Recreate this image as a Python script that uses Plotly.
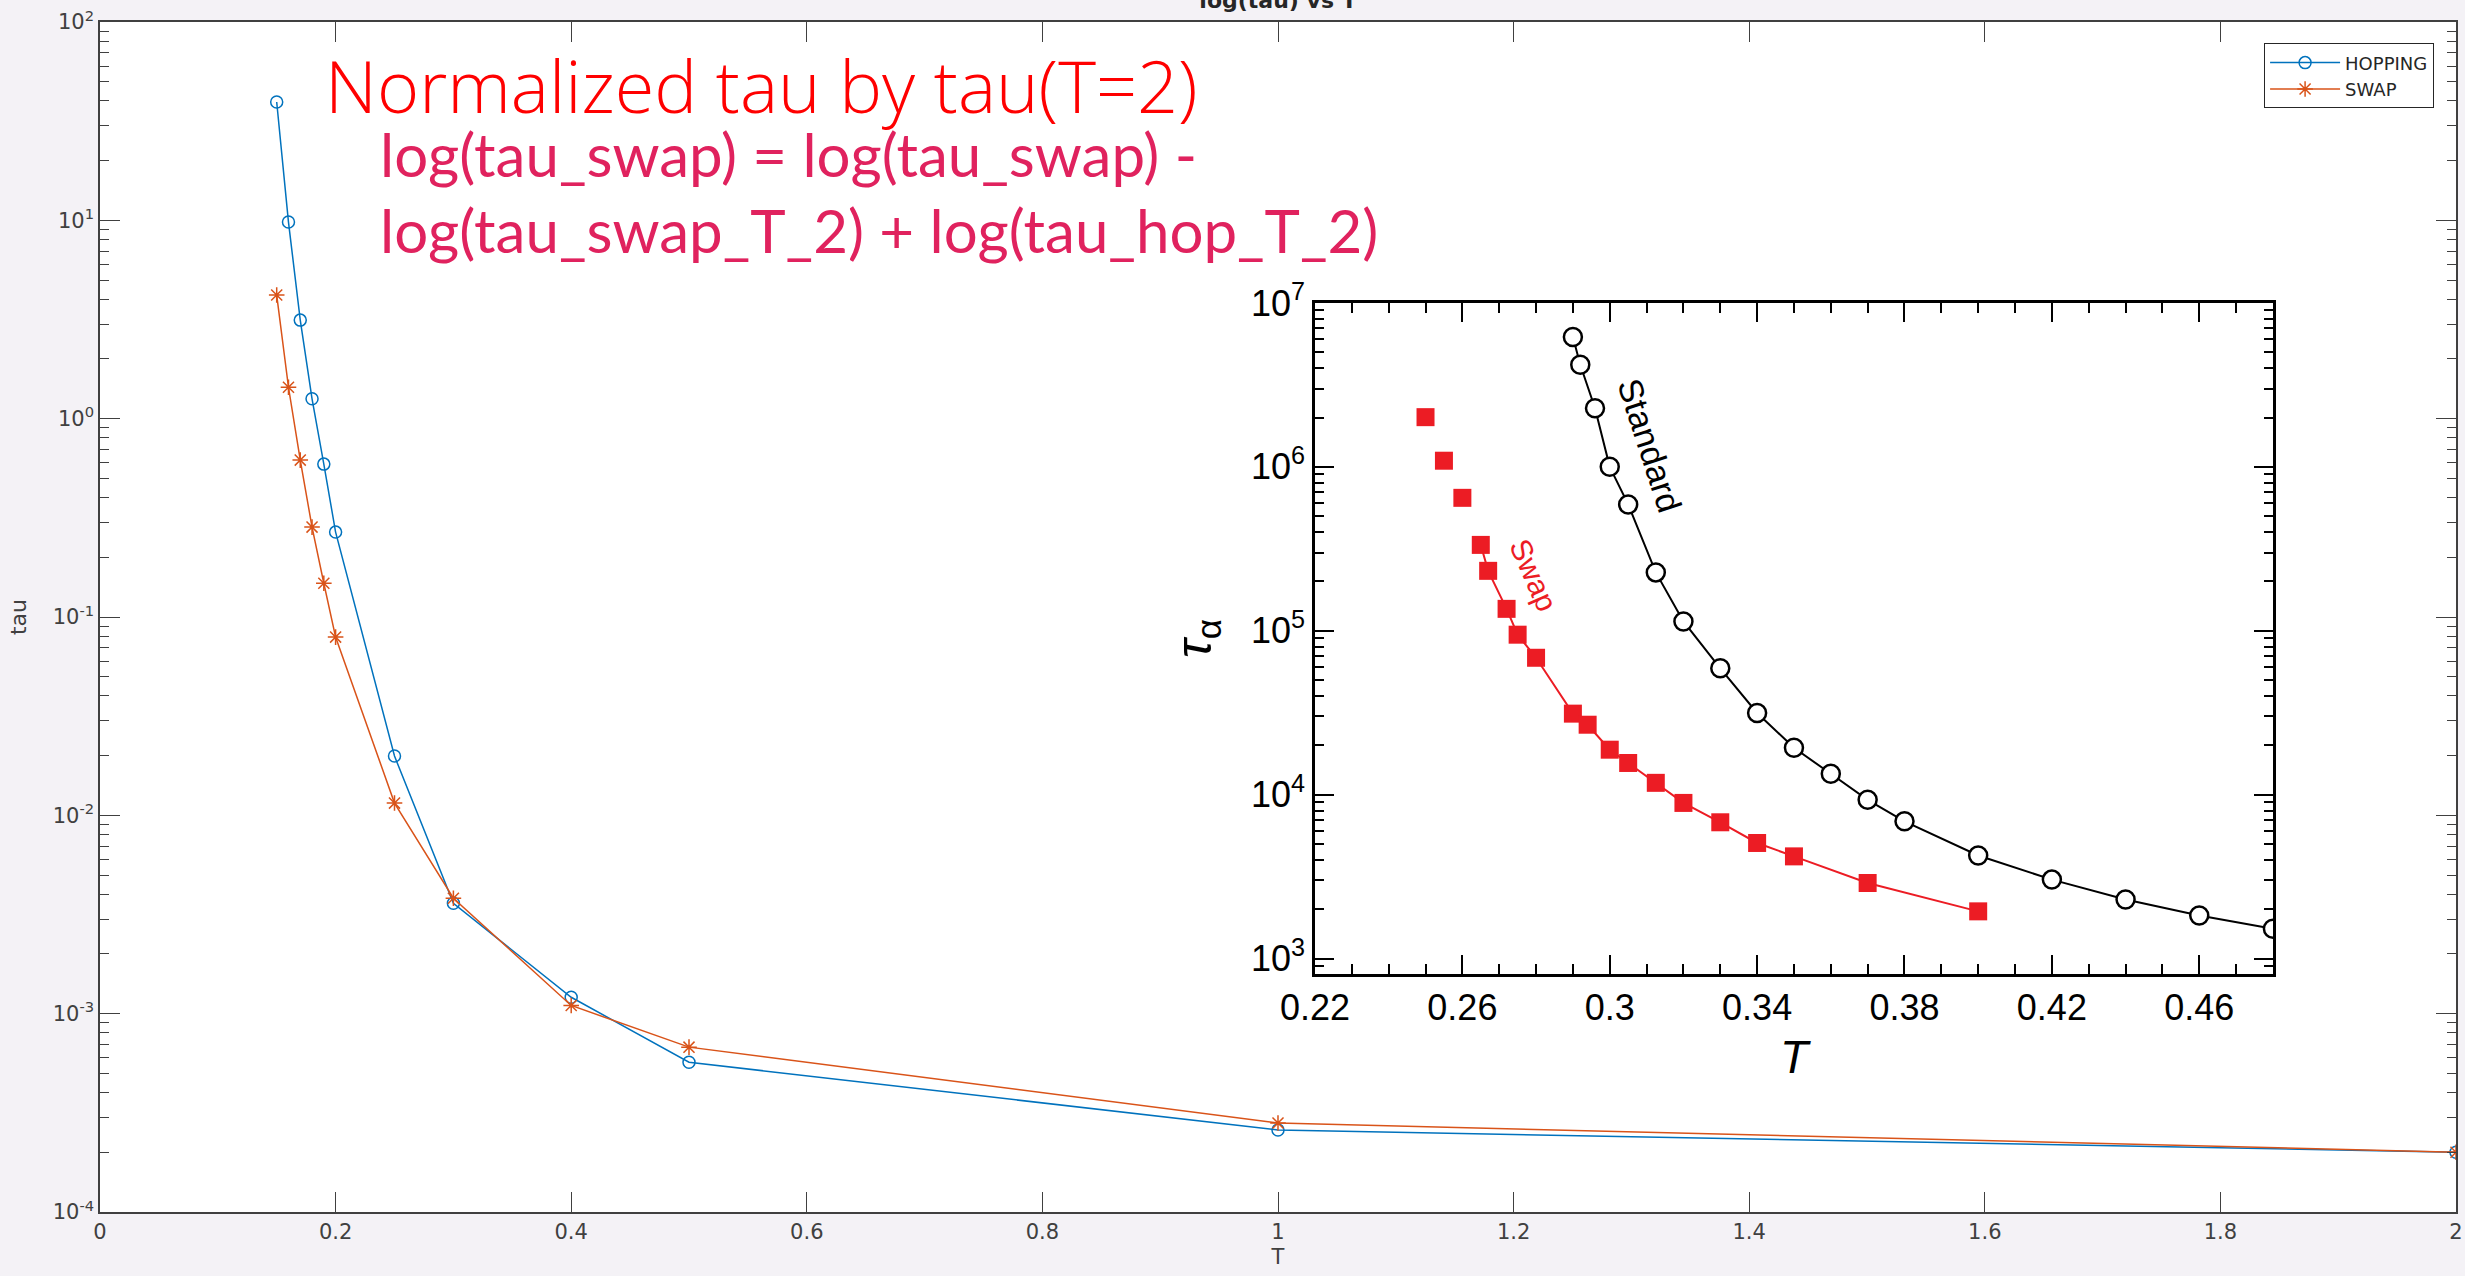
import plotly.graph_objects as go

# ---------------- main chart data ----------------
T_main = [0.15, 0.16, 0.17, 0.18, 0.19, 0.20, 0.25, 0.30, 0.40, 0.50, 1.00, 2.00]
tau_hopping = [39.5, 9.8, 3.14, 1.26, 0.59, 0.268, 0.0199, 0.0036, 0.00121, 0.000569, 0.000259, 0.0002]
tau_swap = [4.2, 1.44, 0.618, 0.284, 0.148, 0.0792, 0.01153, 0.00382, 0.0011, 0.000678, 0.000281, 0.0002]

main_ytick_vals = [1e-4, 1e-3, 1e-2, 1e-1, 1e0, 1e1, 1e2]
main_ytick_text = ['10<sup>-4</sup>', '10<sup>-3</sup>', '10<sup>-2</sup>', '10<sup>-1</sup>',
                   '10<sup>0</sup>', '10<sup>1</sup>', '10<sup>2</sup>']

# ---------------- inset data ----------------
T_standard = [0.29, 0.292, 0.296, 0.30, 0.305, 0.3125, 0.32, 0.33, 0.34, 0.35, 0.36,
              0.37, 0.38, 0.40, 0.42, 0.44, 0.46, 0.48]
tau_standard = [6.2e6, 4.2e6, 2.28e6, 1.0e6, 5.9e5, 2.27e5, 1.14e5, 5.9e4, 3.15e4, 1.93e4,
                1.34e4, 9.3e3, 6.87e3, 4.25e3, 3.03e3, 2.29e3, 1.83e3, 1.52e3]
T_swap_inset = [0.25, 0.255, 0.26, 0.265, 0.267, 0.272, 0.275, 0.28, 0.29, 0.294, 0.30,
                0.305, 0.3125, 0.32, 0.33, 0.34, 0.35, 0.37, 0.40]
tau_swap_inset = [2.01e6, 1.09e6, 6.47e5, 3.34e5, 2.32e5, 1.36e5, 9.46e4, 6.84e4, 3.12e4,
                  2.67e4, 1.88e4, 1.56e4, 1.18e4, 8.9e3, 6.78e3, 5.07e3, 4.2e3, 2.89e3, 1.94e3]
swap_line_start = 3  # first points shown without connecting line

inset_ytick_vals = [1e3, 1e4, 1e5, 1e6, 1e7]
inset_ytick_text = ['10<sup>3</sup>', '10<sup>4</sup>', '10<sup>5</sup>', '10<sup>6</sup>', '10<sup>7</sup>']

BLUE = '#0072BD'
ORANGE = '#D95319'
AXC = '#404040'
INSET_RED = '#EC1C24'

main_minor = [d * 10 ** e for e in range(-4, 2) for d in range(2, 10)]
inset_minor = [d * 10 ** e for e in range(2, 7) for d in range(2, 10)]

fig = go.Figure()

fig.add_trace(go.Scatter(
    x=T_main, y=tau_hopping, mode='lines+markers', name='HOPPING',
    line=dict(color=BLUE, width=1.5),
    marker=dict(symbol='circle-open', size=12, color=BLUE, line=dict(width=1.5, color=BLUE)),
    xaxis='x', yaxis='y'))
fig.add_trace(go.Scatter(
    x=T_main, y=tau_swap, mode='lines+markers', name='SWAP',
    line=dict(color=ORANGE, width=1.5),
    marker=dict(symbol='asterisk-open', size=13, color=ORANGE, line=dict(width=1.5, color=ORANGE)),
    xaxis='x', yaxis='y'))

# inset traces
fig.add_trace(go.Scatter(
    x=T_standard, y=tau_standard, mode='lines+markers', showlegend=False,
    line=dict(color='black', width=2),
    marker=dict(symbol='circle', size=18, color='white', line=dict(width=2.5, color='black')),
    xaxis='x2', yaxis='y2'))
fig.add_trace(go.Scatter(
    x=T_swap_inset[swap_line_start:], y=tau_swap_inset[swap_line_start:], mode='lines',
    showlegend=False, line=dict(color=INSET_RED, width=2),
    xaxis='x2', yaxis='y2'))
fig.add_trace(go.Scatter(
    x=T_swap_inset, y=tau_swap_inset, mode='markers', showlegend=False,
    marker=dict(symbol='square', size=18, color=INSET_RED, line=dict(width=0)),
    xaxis='x2', yaxis='y2'))

main_font = dict(family='DejaVu Sans', size=21, color=AXC)

fig.update_layout(
    width=2465, height=1276,
    margin=dict(l=100, r=9, t=22, b=64),
    paper_bgcolor='#F4F2F6', plot_bgcolor='white',
    title=dict(text='log(tau) vs T', x=0.5, xref='paper', xanchor='center',
               y=1.0, yref='container', yanchor='middle',
               font=dict(family='DejaVu Sans', size=22, color='#262626', weight='bold')),
    legend=dict(x=0.9907, xanchor='right', y=0.982, yanchor='top',
                bgcolor='white', bordercolor='#262626', borderwidth=1,
                font=dict(family='DejaVu Sans', size=18, color='#262626'),
                itemwidth=70, tracegroupgap=0),
    xaxis=dict(domain=[0, 1], anchor='y', range=[0, 2], tickmode='linear', tick0=0, dtick=0.2,
               ticks='inside', ticklen=20, tickwidth=1.2, tickcolor=AXC,
               showline=True, linecolor=AXC, linewidth=1.5, mirror='ticks',
               showgrid=False, zeroline=False, tickfont=main_font, automargin=False,
               title=dict(text='T', font=main_font, standoff=6)),
    yaxis=dict(domain=[0, 1], anchor='x', type='log', range=[-4, 2],
               tickmode='array', tickvals=main_ytick_vals, ticktext=main_ytick_text,
               ticks='inside', ticklen=20, tickwidth=1.2, tickcolor=AXC,
               minor=dict(tickmode='array', tickvals=main_minor, ticks='inside', ticklen=9,
                          tickwidth=1.2, tickcolor=AXC, showgrid=False),
               showline=True, linecolor=AXC, linewidth=1.5, mirror='ticks',
               showgrid=False, zeroline=False, tickfont=main_font, automargin=False,
               title=dict(text='tau', font=dict(family='DejaVu Sans', size=22, color=AXC), standoff=20)),
    xaxis2=dict(domain=[0.5157, 0.9223], anchor='y2', range=[0.22, 0.48],
                tickmode='linear', tick0=0.22, dtick=0.04,
                ticks='inside', ticklen=19, tickwidth=2, tickcolor='black',
                minor=dict(tickmode='linear', tick0=0.22, dtick=0.01, ticks='inside',
                           ticklen=10, tickwidth=2, tickcolor='black', showgrid=False),
                showline=True, linecolor='black', linewidth=2.5, mirror='ticks',
                showgrid=False, zeroline=False, automargin=False,
                tickfont=dict(family='Liberation Sans', size=36, color='black'),
                title=dict(text='<i>T</i>', font=dict(family='Liberation Sans', size=46, color='black'),
                           standoff=14)),
    yaxis2=dict(domain=[0.2, 0.7639], anchor='x2', type='log', range=[2.9055, 7],
                tickmode='array', tickvals=inset_ytick_vals, ticktext=inset_ytick_text,
                ticks='inside', ticklen=19, tickwidth=2, tickcolor='black',
                minor=dict(tickmode='array', tickvals=inset_minor, ticks='inside', ticklen=9,
                           tickwidth=2, tickcolor='black', showgrid=False),
                showline=True, linecolor='black', linewidth=2.5, mirror='ticks',
                showgrid=False, zeroline=False, automargin=False,
                tickfont=dict(family='Liberation Sans', size=36, color='black'),
                title=dict(text='<i>τ</i><sub>α</sub>', font=dict(family='Liberation Sans', size=50, color='black'),
                           standoff=24)),
)

annotations = [
    dict(text='Normalized tau by tau(T=2)', x=0.0947, y=0.947, xref='paper', yref='paper',
         xanchor='left', yanchor='middle', showarrow=False,
         font=dict(family='Open Sans', size=72, color='#FF0000', weight=300)),
    dict(text='log(tau_swap) = log(tau_swap) -', x=0.118, y=0.889, xref='paper', yref='paper',
         xanchor='left', yanchor='middle', showarrow=False,
         font=dict(family='Lato', size=60, color='#E0225E')),
    dict(text='log(tau_swap_T_2) + log(tau_hop_T_2)', x=0.118, y=0.825, xref='paper', yref='paper',
         xanchor='left', yanchor='middle', showarrow=False,
         font=dict(family='Lato', size=60, color='#E0225E')),
    dict(text='Standard', x=0.311, y=6.13, xref='x2', yref='y2', showarrow=False,
         textangle=72, font=dict(family='Liberation Sans', size=34, color='black')),
    dict(text='Swap', x=0.2792, y=5.341, xref='x2', yref='y2', showarrow=False,
         textangle=66, font=dict(family='Liberation Sans', size=30, color=INSET_RED)),
]
fig.update_layout(annotations=annotations)

fig.write_html('out.html')
